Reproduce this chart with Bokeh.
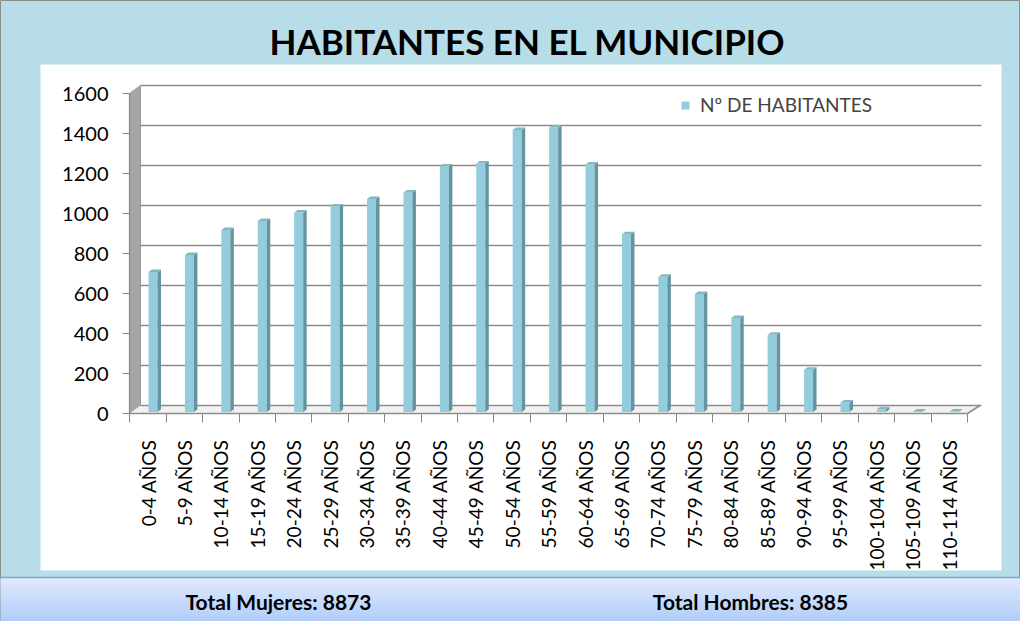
import math
from bokeh.plotting import figure
from bokeh.models import (Range1d, LinearAxis, FixedTicker, ColumnDataSource,
                          Legend, LegendItem)
from bokeh.core.properties import value
from bokeh.embed import file_html
from bokeh.resources import INLINE

# ---------------- data ----------------
categories = ["0-4 AÑOS", "5-9 AÑOS", "10-14 AÑOS", "15-19 AÑOS", "20-24 AÑOS",
              "25-29 AÑOS", "30-34 AÑOS", "35-39 AÑOS", "40-44 AÑOS", "45-49 AÑOS",
              "50-54 AÑOS", "55-59 AÑOS", "60-64 AÑOS", "65-69 AÑOS", "70-74 AÑOS",
              "75-79 AÑOS", "80-84 AÑOS", "85-89 AÑOS", "90-94 AÑOS", "95-99 AÑOS",
              "100-104 AÑOS", "105-109 AÑOS", "110-114 AÑOS"]
habitantes = [700, 785, 910, 955, 998, 1028, 1065, 1098, 1228, 1243,
              1410, 1422, 1237, 889, 676, 590, 470, 386, 211, 48,
              14, 3, 2]
y_ticks = [0, 200, 400, 600, 800, 1000, 1200, 1400, 1600]
title_text = "HABITANTES EN EL MUNICIPIO"
series_name = "Nº DE HABITANTES"
footer_texts = ["Total Mujeres: 8873", "Total Hombres: 8385"]

# ---------------- geometry helpers (page pixels -> data) ----------------
W, H = 1020, 621
OFF = 8
X0, STEP = 155.5, 36.42     # page x of first category centre, px per category
Y0, SCALE = 421.0, 0.2      # page y of value 0 (front plane), px per unit
UX = 1.0 / STEP             # data units per px (x)
UY = 1.0 / SCALE            # data units per px (y)


def px_x(X):
    return (X - X0) / STEP


def px_y(Y):
    return (Y0 - Y) / SCALE


FONT_NAME = "Lato"
FONT = value(FONT_NAME)

p = figure(width=W, height=H,
           x_range=Range1d(px_x(OFF), px_x(OFF + W)),
           y_range=Range1d(px_y(OFF + H), px_y(OFF)),
           output_backend="svg", toolbar_location=None, min_border=0,
           x_axis_type=None, y_axis_type=None)
p.background_fill_color = "#b7dde8"
p.border_fill_color = "#b7dde8"
p.outline_line_color = "#8c8c8c"

# white chart area
p.quad(left=px_x(48), right=px_x(1009), top=px_y(72), bottom=px_y(578),
       fill_color="white", line_color=None)

# footer band with vertical gradient
n_strips = 30
top_c = (223, 234, 252)
bot_c = (166, 198, 249)
band_top, band_bot = 585.0, 640.0
for k in range(n_strips):
    t = k / (n_strips - 1)
    c = tuple(int(round(top_c[j] + (bot_c[j] - top_c[j]) * t)) for j in range(3))
    y_a = band_top + (band_bot - band_top) * k / n_strips
    y_b = band_top + (band_bot - band_top) * (k + 1) / n_strips + 0.5
    p.quad(left=px_x(0), right=px_x(1040), top=px_y(y_a), bottom=px_y(y_b),
           fill_color="#%02x%02x%02x" % c, line_color=None)
p.segment(x0=[px_x(0)], x1=[px_x(1040)], y0=[px_y(585)], y1=[px_y(585)],
          line_color="#7fa3d3", line_width=1.5)

p.text(x=[px_x(286), px_x(758)], y=[px_y(609), px_y(609)], text=footer_texts,
       text_font=FONT, text_font_style="bold", text_font_size="21px",
       text_align="center", text_baseline="middle", text_color="black")

# title
p.text(x=[px_x(535)], y=[px_y(48)], text=[title_text],
       text_font=FONT, text_font_style="bold", text_font_size="35px",
       text_align="center", text_baseline="middle", text_color="black")

# 3D walls
DXW = 11 * UX
DYW = 8 * UY
left_front = px_x(137)
p.patch(x=[left_front, left_front + DXW, left_front + DXW, left_front],
        y=[y_ticks[-1], y_ticks[-1] + DYW, DYW, 0],
        fill_color="#a6a6a6", line_color="#9a9a9a", line_width=1)
# floor
right_front = px_x(975)
p.patch(x=[left_front, right_front, right_front + DXW + 1.5 * UX, left_front + DXW],
        y=[0, 0, DYW, DYW], fill_color="#f2f2f2", line_color=None)
p.segment(x0=[right_front], y0=[0], x1=[right_front + DXW + 1.5 * UX], y1=[DYW],
          line_color="#8c8c8c", line_width=1.5)
# back wall gridlines
p.segment(x0=[left_front + DXW] * len(y_ticks), x1=[px_x(989)] * len(y_ticks),
          y0=[t + DYW for t in y_ticks], y1=[t + DYW for t in y_ticks],
          line_color="#8c8c8c", line_width=1.6)

# bars (front face + side + top)
FACE_L, FACE_R = 0.5 * UX, 9.5 * UX
DXB, DYB = 3.5 * UX, 2.5 * UY
BASE = 1.5 * UY
n = len(categories)
xs_idx = list(range(n))
src = ColumnDataSource(dict(
    x=[i + (FACE_L + FACE_R) / 2 for i in xs_idx],
    top=[v + BASE for v in habitantes],
    bottom=[BASE] * n,
))
bars = p.vbar(x="x", width=FACE_R - FACE_L, top="top", bottom="bottom", source=src,
              fill_color="#93cddd", line_color=None)

side_xs, side_ys, top_xs, top_ys = [], [], [], []
for i, v in zip(xs_idx, habitantes):
    xl, xr = i + FACE_L, i + FACE_R
    t = v + BASE
    side_xs.append([xr, xr + DXB, xr + DXB, xr])
    side_ys.append([BASE, BASE + DYB, t + DYB, t])
    top_xs.append([xl, xl + DXB, xr + DXB, xr])
    top_ys.append([t, t + DYB, t + DYB, t])
p.patches(xs=side_xs, ys=side_ys, fill_color="#64949f", line_color=None)
p.patches(xs=top_xs, ys=top_ys, fill_color="#84b6c3", line_color=None)

# axes
yaxis = LinearAxis(fixed_location=left_front, ticker=FixedTicker(ticks=y_ticks),
                   bounds=(0, y_ticks[-1]),
                   axis_line_color="#868686", axis_line_width=1.2,
                   major_tick_line_color="#868686", major_tick_out=7, major_tick_in=0,
                   minor_tick_line_color=None, major_label_standoff=14,
                   major_label_text_font=FONT_NAME, major_label_text_font_size="20px",
                   major_label_text_color="black")
p.add_layout(yaxis, "left")

xaxis = LinearAxis(fixed_location=0,
                   ticker=FixedTicker(ticks=xs_idx,
                                      minor_ticks=[i - 0.5 for i in range(n + 1)]),
                   bounds=(left_front, right_front),
                   major_label_overrides={i: c for i, c in enumerate(categories)},
                   major_label_orientation=math.pi / 2,
                   axis_line_color="#8c8c8c", axis_line_width=1.5,
                   major_tick_line_color=None, major_tick_out=0, major_tick_in=0,
                   minor_tick_line_color="#868686", minor_tick_line_width=1,
                   minor_tick_out=9, minor_tick_in=0,
                   major_label_standoff=17,
                   major_label_text_font=FONT_NAME, major_label_text_font_size="19px",
                   major_label_text_color="black")
p.add_layout(xaxis, "below")

legend = Legend(items=[LegendItem(label=series_name, renderers=[bars])],
                location=(680, 505), background_fill_alpha=0, border_line_color=None,
                label_text_font=FONT_NAME, label_text_font_size="19px",
                glyph_width=10, glyph_height=10, padding=0, margin=0,
                label_standoff=10)
p.add_layout(legend)

open("out.html", "w").write(file_html(p, INLINE))
